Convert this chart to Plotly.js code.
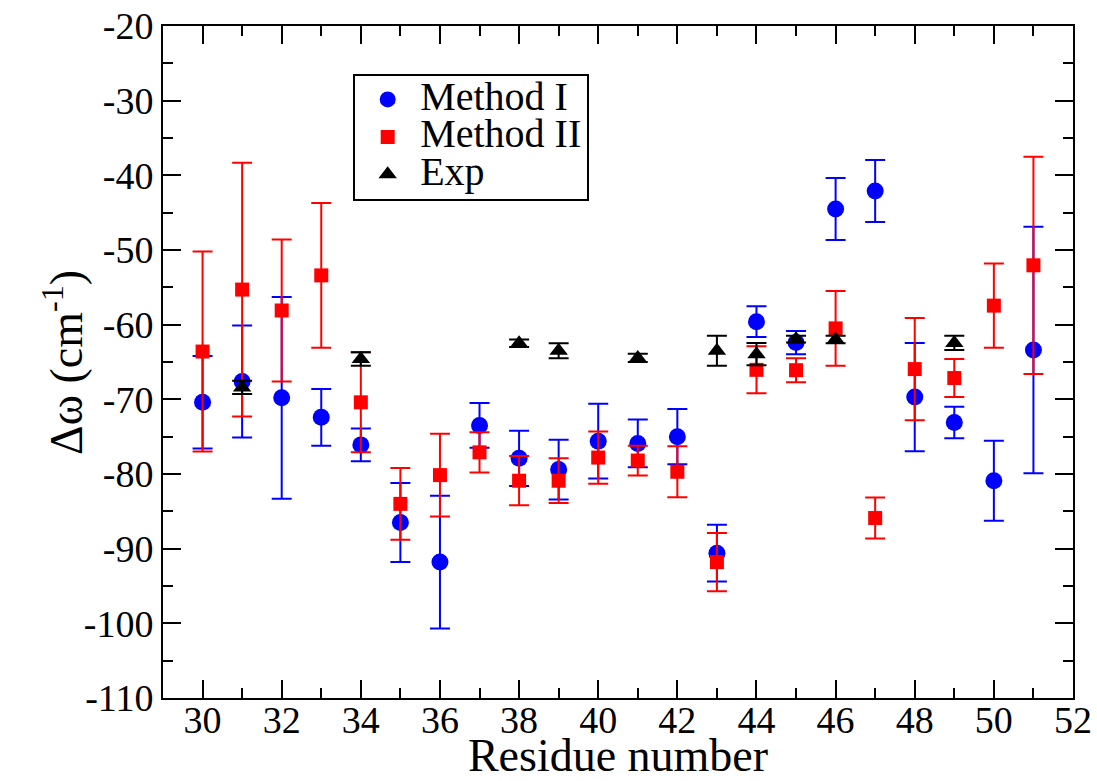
<!DOCTYPE html>
<html>
<head>
<meta charset="utf-8">
<script src="https://cdn.plot.ly/plotly-3.0.1.min.js"></script>
<style>
html,body{margin:0;padding:0;background:#fff;}
#chart{width:1097px;height:781px;}
</style>
</head>
<body>
<div id="chart"></div>
<script>
// Residue numbers
const residues = [30,31,32,33,34,35,36,37,38,39,40,41,42,43,44,45,46,47,48,49,50,51];
// Method I
const method1 = [-70.4,-67.6,-69.8,-72.4,-76.1,-86.5,-91.8,-73.5,-77.9,-79.4,-75.6,-75.9,-75.0,-90.6,-59.6,-62.4,-44.5,-42.1,-69.7,-73.1,-80.9,-63.4];
const method1Err = [6.2,7.5,13.5,3.8,2.2,5.3,8.9,3.0,3.7,4.0,5.0,3.2,3.7,3.8,2.05,1.55,4.15,4.15,7.25,2.1,5.35,16.5];
// Method II
const method2 = [-63.6,-55.3,-58.1,-53.4,-70.4,-84.0,-80.15,-77.1,-80.9,-80.9,-77.8,-78.2,-79.7,-91.8,-66.05,-66.1,-60.5,-85.9,-65.95,-67.15,-57.45,-52.05];
const method2Err = [13.4,17.0,9.5,9.7,6.7,4.8,5.55,2.7,3.3,3.0,3.5,2.0,3.4,3.9,3.15,1.6,5.0,2.75,6.85,2.55,5.65,14.55];
// Experiment
const expResidues = [31,34,38,39,41,43,44,45,46,49];
const expValues = [-68.4,-64.6,-62.5,-63.5,-64.45,-63.5,-63.95,-61.95,-62.0,-62.45];
const expErr = [0.9,0.9,0.5,1.0,0.55,2.0,1.5,0.45,0.5,0.95];

const seriesNames = ['Method I', 'Method II', 'Exp'];
const xTicks = [30,32,34,36,38,40,42,44,46,48,50,52];
const yTicks = [-20,-30,-40,-50,-60,-70,-80,-90,-100,-110];
const xTitle = 'Residue number';
const yTitle = 'Δω (cm<sup>-1</sup>)';

const FONT = 'Liberation Serif';
const big = s => '<span style="font-size:40px">' + s + '</span>';

const traces = [
  {x: residues, y: method1, name: big(seriesNames[0]), type: 'scatter', mode: 'markers',
   marker: {symbol: 'circle', size: 17, color: '#0000ff'},
   error_y: {type: 'data', array: method1Err, visible: true, color: '#0000ff', thickness: 2, width: 10}},
  {x: residues, y: method2, name: big(seriesNames[1]), type: 'scatter', mode: 'markers',
   marker: {symbol: 'square', size: 14, color: '#ff0000'},
   error_y: {type: 'data', array: method2Err, visible: true, color: '#ff0000', thickness: 2, width: 10}},
  {x: expResidues, y: expValues, name: big(seriesNames[2]), type: 'scatter', mode: 'markers',
   marker: {symbol: 'triangle-up', size: 16, color: '#000000'},
   error_y: {type: 'data', array: expErr, visible: true, color: '#000000', thickness: 2, width: 10}}
];

const layout = {
  width: 1097, height: 781,
  paper_bgcolor: '#ffffff', plot_bgcolor: '#ffffff',
  margin: {l: 163, r: 24, t: 26, b: 83},
  font: {family: FONT, color: '#000'},
  showlegend: true,
  legend: {x: 0.209, y: 0.929, xanchor: 'left', yanchor: 'top',
    bordercolor: '#000', borderwidth: 2, bgcolor: '#fff', itemwidth: 55,
    font: {family: FONT, size: 26.5, color: '#000'}, tracegroupgap: 0},
  xaxis: {
    range: [29, 52], tickmode: 'array', tickvals: xTicks, ticktext: xTicks.map(String),
    ticks: 'inside', ticklen: 18, tickwidth: 2, tickcolor: '#000',
    minor: {dtick: 1, ticks: 'inside', ticklen: 10, tickwidth: 2, tickcolor: '#000'},
    showline: true, linewidth: 2, linecolor: '#000', mirror: 'allticks',
    showgrid: false, zeroline: false, ticklabelstandoff: -13,
    tickfont: {family: FONT, size: 38, color: '#000'},
    title: {text: xTitle, font: {family: FONT, size: 46, color: '#000'}, standoff: 6}
  },
  yaxis: {
    range: [-110, -20], tickmode: 'array', tickvals: yTicks, ticktext: yTicks.map(String),
    ticks: 'inside', ticklen: 18, tickwidth: 2, tickcolor: '#000',
    minor: {dtick: 5, ticks: 'inside', ticklen: 10, tickwidth: 2, tickcolor: '#000'},
    showline: true, linewidth: 2, linecolor: '#000', mirror: 'allticks',
    showgrid: false, zeroline: false,
    tickfont: {family: FONT, size: 38, color: '#000'}
  },
  annotations: [{
    text: yTitle, xref: 'paper', yref: 'paper', x: -0.11, y: 0.5,
    xanchor: 'center', yanchor: 'middle', textangle: -90, showarrow: false,
    font: {family: FONT, size: 46, color: '#000'}
  }]
};

const gd = document.getElementById('chart');
(document.fonts ? document.fonts.ready : Promise.resolve())
  .then(() => Plotly.newPlot(gd, traces, layout, {staticPlot: true, displayModeBar: false}));
</script>
</body>
</html>
